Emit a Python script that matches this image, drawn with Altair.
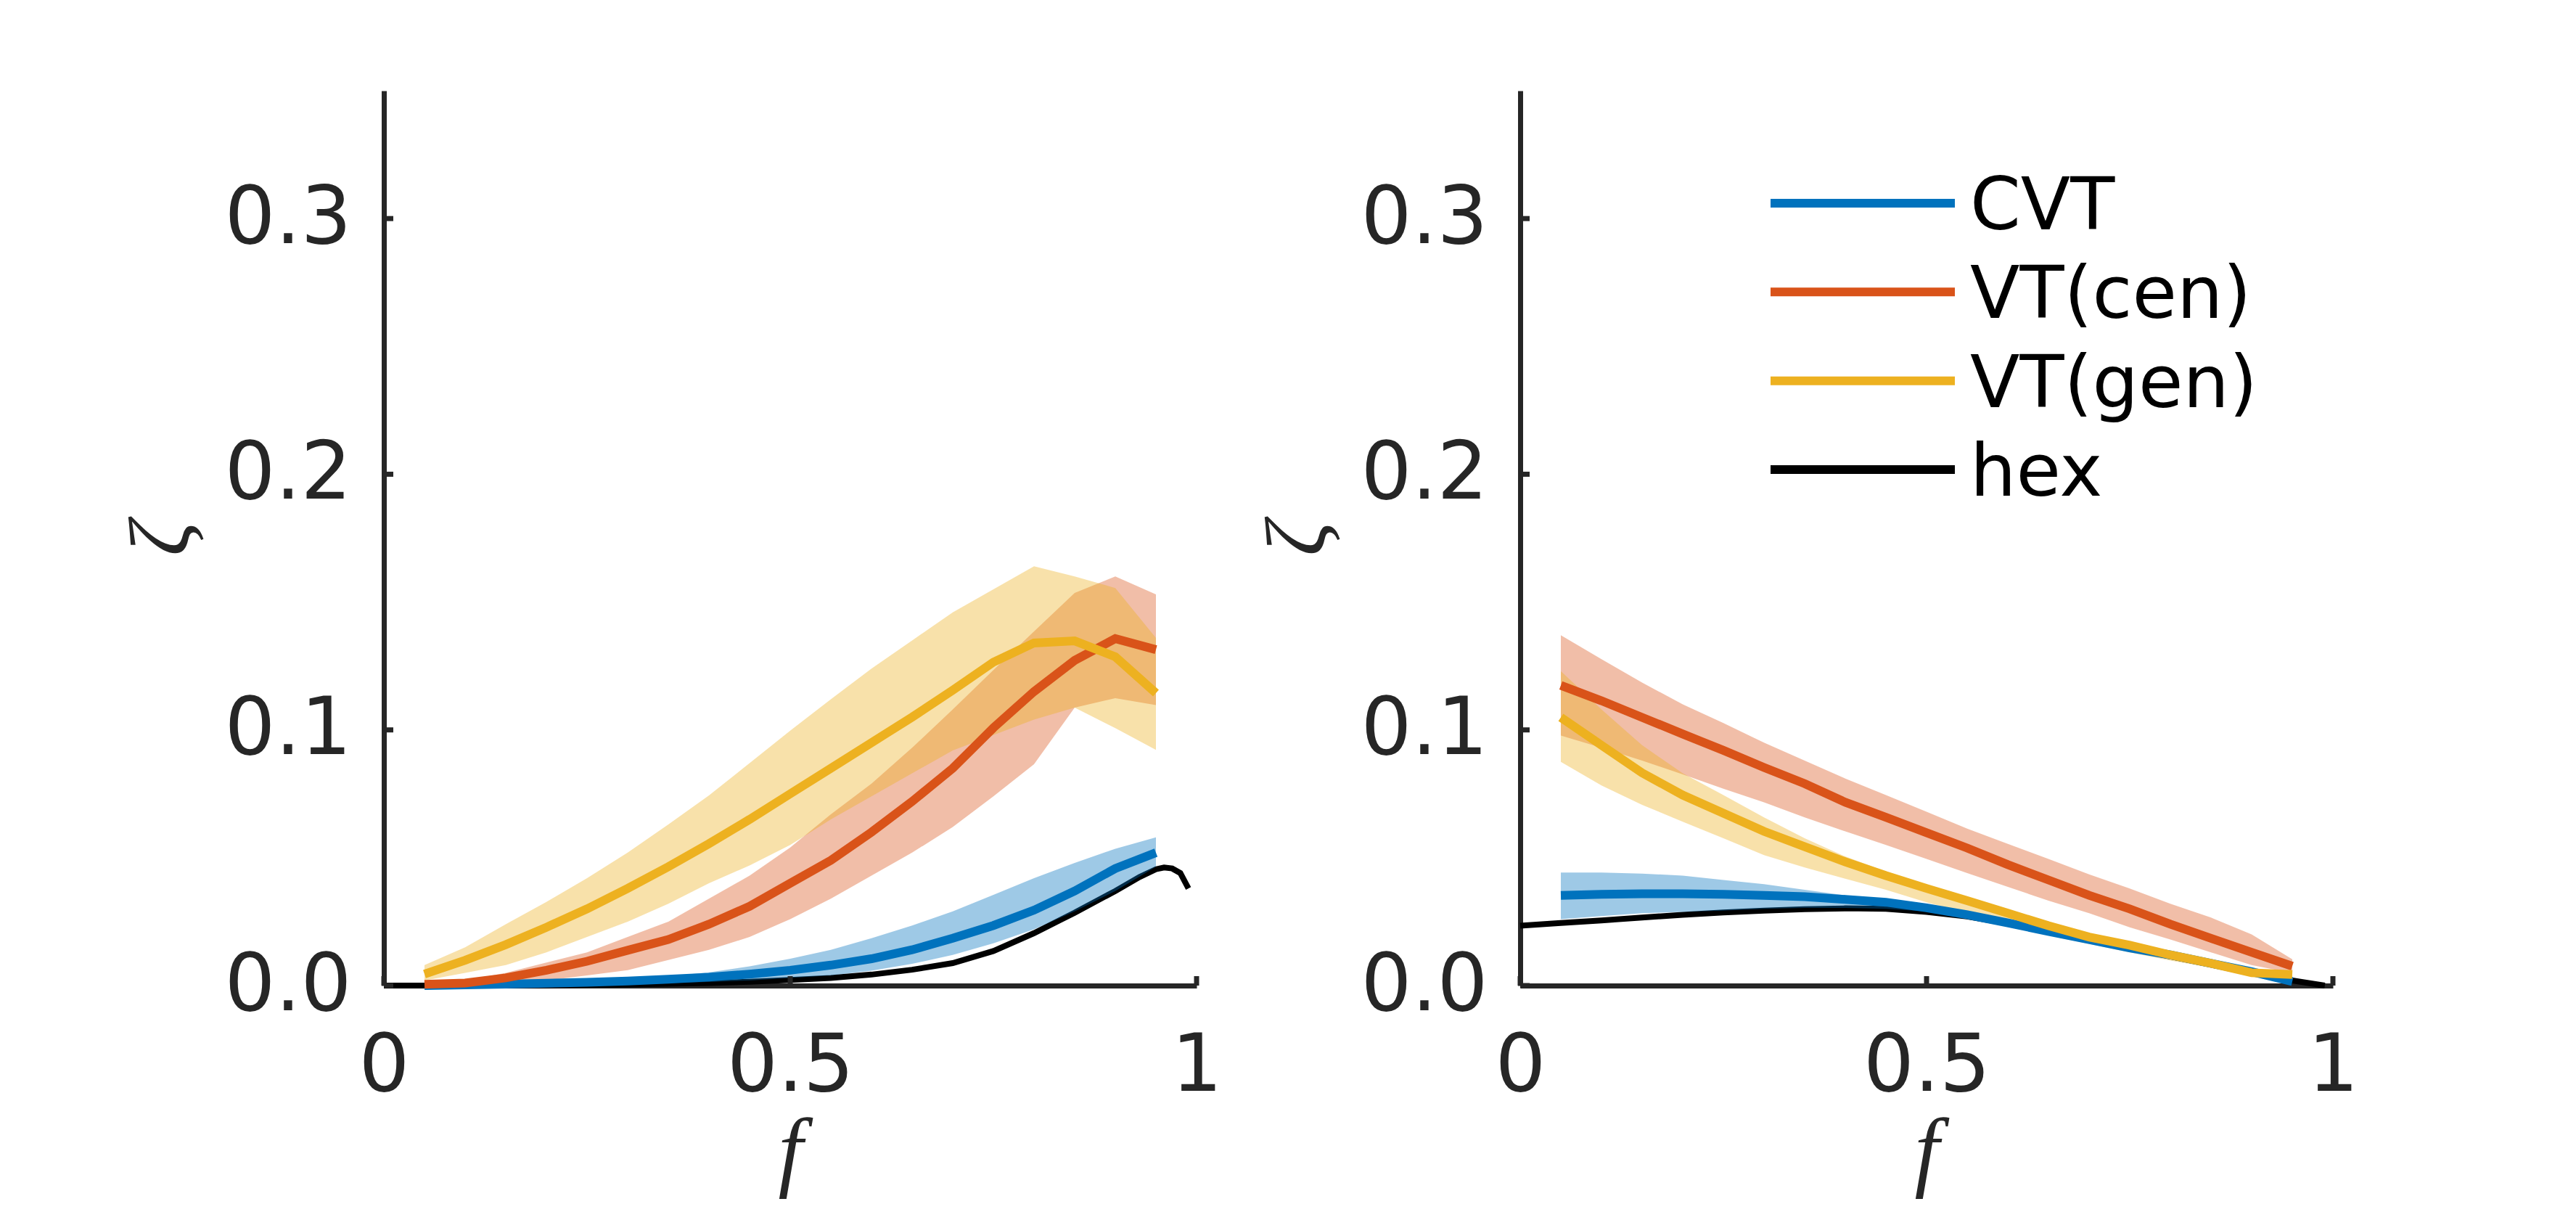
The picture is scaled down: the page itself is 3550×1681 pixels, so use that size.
import altair as alt
import pandas as pd

# ---------------- data ----------------
F = [0.05, 0.10, 0.15, 0.20, 0.25, 0.30, 0.35, 0.40, 0.45, 0.50,
     0.55, 0.60, 0.65, 0.70, 0.75, 0.80, 0.85, 0.90, 0.95]
SERIES = ["CVT", "VT(cen)", "VT(gen)", "hex"]
COLORS = ["#0072BD", "#D95319", "#EDB120", "#000000"]

# left panel
cvt_m_A = [0.0, 0.0003, 0.0006, 0.0009, 0.0013, 0.0018, 0.0025, 0.0033, 0.0045, 0.006,
           0.008, 0.0105, 0.014, 0.0185, 0.0235, 0.0295, 0.037, 0.0458, 0.052]
cvt_hi_A = [0.0003, 0.0006, 0.001, 0.0014, 0.002, 0.0027, 0.0036, 0.0052, 0.0075, 0.0105,
            0.014, 0.0185, 0.0235, 0.029, 0.0355, 0.042, 0.048, 0.0535, 0.058]
cvt_lo_A = [0.0, 0.0001, 0.0002, 0.0003, 0.0005, 0.0007, 0.001, 0.0014, 0.002, 0.003,
            0.004, 0.0058, 0.0085, 0.012, 0.0165, 0.022, 0.029, 0.037, 0.0465]
cen_m_A = [0.0005, 0.001, 0.003, 0.006, 0.0095, 0.0138, 0.018, 0.024, 0.031, 0.040,
           0.049, 0.060, 0.072, 0.085, 0.1008, 0.115, 0.1272, 0.1357, 0.1314]
cen_hi_A = [0.001, 0.002, 0.005, 0.009, 0.013, 0.019, 0.025, 0.034, 0.043, 0.054,
            0.067, 0.079, 0.093, 0.108, 0.1234, 0.1385, 0.1536, 0.160, 0.153]
cen_lo_A = [0.0, 0.0, 0.001, 0.002, 0.004, 0.006, 0.010, 0.014, 0.019, 0.026,
            0.034, 0.043, 0.052, 0.062, 0.074, 0.0866, 0.1087, 0.1124, 0.1097]
gen_m_A = [0.0045, 0.0099, 0.016, 0.0228, 0.030, 0.038, 0.0465, 0.0555, 0.065, 0.075,
           0.085, 0.095, 0.105, 0.1155, 0.1265, 0.134, 0.1348, 0.1286, 0.1144]
gen_hi_A = [0.008, 0.015, 0.024, 0.0327, 0.042, 0.052, 0.063, 0.0744, 0.087, 0.0997,
            0.112, 0.124, 0.135, 0.146, 0.155, 0.164, 0.160, 0.1555, 0.136]
gen_lo_A = [0.002, 0.005, 0.008, 0.013, 0.019, 0.025, 0.032, 0.040, 0.047, 0.055,
            0.065, 0.074, 0.083, 0.092, 0.098, 0.104, 0.1087, 0.1007, 0.0922]
hex_f_A = [0.0, 0.1, 0.2, 0.3, 0.4, 0.45, 0.5, 0.55, 0.6, 0.65, 0.7, 0.75, 0.8,
           0.85, 0.9, 0.93, 0.95, 0.96, 0.97, 0.98, 0.99]
hex_v_A = [0.0, 0.0, 0.0001, 0.0004, 0.001, 0.0015, 0.0022, 0.003, 0.0043, 0.0062, 0.0088,
           0.0135, 0.0205, 0.0285, 0.037, 0.0425, 0.0455, 0.0462, 0.0458, 0.044, 0.038]

# right panel
cvt_m_B = [0.0353, 0.0357, 0.0359, 0.0359, 0.0357, 0.0353, 0.0348, 0.0337, 0.0326, 0.0304,
           0.0277, 0.0245, 0.0212, 0.018, 0.0147, 0.012, 0.0087, 0.0054, 0.0016]
cvt_hi_B = [0.0442, 0.0442, 0.0438, 0.043, 0.0413, 0.0397, 0.0375, 0.0353, 0.0330, 0.0307,
            0.0280, 0.0250, 0.0217, 0.0185, 0.0152, 0.0125, 0.0092, 0.0059, 0.0021]
cvt_lo_B = [0.026, 0.0272, 0.0283, 0.0288, 0.0293, 0.030, 0.0304, 0.0304, 0.030, 0.029,
            0.0272, 0.0240, 0.0207, 0.0175, 0.0142, 0.0115, 0.0082, 0.0049, 0.0011]
cen_m_B = [0.1174, 0.1114, 0.1049, 0.0984, 0.092, 0.0853, 0.079, 0.0717, 0.0658, 0.0598,
           0.0538, 0.0473, 0.0413, 0.0353, 0.030, 0.024, 0.0185, 0.013, 0.0076]
cen_hi_B = [0.137, 0.1277, 0.1185, 0.110, 0.1027, 0.095, 0.088, 0.081, 0.0745, 0.068,
            0.0614, 0.0554, 0.0495, 0.0435, 0.038, 0.032, 0.0266, 0.020, 0.0103]
cen_lo_B = [0.0978, 0.093, 0.088, 0.0826, 0.077, 0.0717, 0.0658, 0.0603, 0.055, 0.0495,
            0.044, 0.0386, 0.0332, 0.0283, 0.0228, 0.018, 0.013, 0.008, 0.0049]
gen_m_B = [0.1049, 0.094, 0.0832, 0.0745, 0.0674, 0.0603, 0.0543, 0.0484, 0.043, 0.038,
           0.0332, 0.0283, 0.0234, 0.019, 0.0158, 0.012, 0.0087, 0.005, 0.0043]
gen_hi_B = [0.123, 0.108, 0.094, 0.083, 0.0745, 0.0658, 0.0576, 0.0505, 0.0446, 0.039,
            0.034, 0.0293, 0.0245, 0.020, 0.0158, 0.0125, 0.0092, 0.006, 0.0054]
gen_lo_B = [0.0875, 0.0783, 0.0707, 0.0641, 0.0576, 0.051, 0.0462, 0.0418, 0.0375, 0.0326,
            0.0283, 0.024, 0.0196, 0.0163, 0.013, 0.0098, 0.007, 0.0038, 0.0027]
hex_f_B = [0.0, 0.05, 0.1, 0.15, 0.2, 0.25, 0.3, 0.35, 0.4, 0.45, 0.5, 0.55, 0.6,
           0.65, 0.7, 0.75, 0.8, 0.85, 0.9, 0.95, 0.99]
hex_v_B = [0.0234, 0.0245, 0.0255, 0.0266, 0.0277, 0.0286, 0.0293, 0.0299, 0.0302, 0.0300,
           0.0288, 0.027, 0.0243, 0.0212, 0.018, 0.0147, 0.0114, 0.0082, 0.005, 0.002, 0.0]

X_TICKS = [0, 0.5, 1]
Y_TICKS = [0, 0.1, 0.2, 0.3]

# ---------------- style ----------------
W, H = 1120, 1233
AX = "#262626"
xs = alt.Scale(domain=[0, 1], nice=False, zero=False)
ys = alt.Scale(domain=[0, 0.35], nice=False, zero=False)
xaxis = alt.Axis(values=X_TICKS, format="~g", ticks=False, grid=False, domainColor=AX,
                 domainWidth=7, labelFont="DejaVu Sans", labelFontSize=110, labelColor=AX,
                 labelPadding=57, labelFlush=False, labelOverlap=False,
                 titleFont="Liberation Serif", titleFontStyle="italic", titleFontWeight="normal",
                 titleFontSize=122, titleColor=AX, titlePadding=5)
yaxis = alt.Axis(values=Y_TICKS, format=".1f", ticks=False, grid=False, domainColor=AX,
                 domainWidth=7, labelFont="DejaVu Sans", labelFontSize=110, labelColor=AX,
                 labelPadding=45, labelFlush=False, labelOverlap=False,
                 titleFont="Liberation Serif", titleFontStyle="italic", titleFontWeight="normal",
                 titleFontSize=118, titleColor=AX, titlePadding=45)
COLOR = alt.Color("series:N", scale=alt.Scale(domain=SERIES, range=COLORS), legend=None)


def X(field):
    return alt.X(field, type="quantitative", scale=xs, axis=xaxis, title="f")


def Y(field):
    return alt.Y(field, type="quantitative", scale=ys, axis=yaxis, title="ζ")


def panel(cvt, cen, gen, hexf, hexv, legend=False):
    rows = []
    for name, (m, lo, hi) in zip(SERIES[:3], [cvt, cen, gen]):
        for f, a, b, c in zip(F, m, lo, hi):
            rows.append({"f": f, "v": a, "lo": b, "hi": c, "series": name})
    df = pd.DataFrame(rows)
    hexdf = pd.DataFrame({"f": hexf, "v": hexv})

    hex_line = alt.Chart(hexdf).mark_line(color="black", strokeWidth=8).encode(
        x=X("f"), y=Y("v"))
    bands = alt.Chart(df).mark_area(opacity=0.38).encode(
        x=X("f"), y=Y("lo"), y2="hi", color=COLOR)
    lines = alt.Chart(df).mark_line(strokeWidth=12).encode(
        x=X("f"), y=Y("v"), color=COLOR)
    yt = alt.Chart(pd.DataFrame({"v": Y_TICKS})).mark_rule(color=AX, strokeWidth=7).encode(
        y=Y("v"), x=alt.value(0), x2=alt.value(13))
    xt = alt.Chart(pd.DataFrame({"f": X_TICKS})).mark_rule(color=AX, strokeWidth=7).encode(
        x=X("f"), y=alt.value(H), y2=alt.value(H - 13))
    main = alt.layer(hex_line, bands, lines, yt, xt)
    if not legend:
        return main.properties(width=W, height=H)

    legdf = pd.DataFrame({"series": SERIES})
    legY = alt.Y("series:N", scale=alt.Scale(type="point", domain=SERIES, range=[155, 522],
                                             padding=0), axis=None)
    leg_rule = alt.Chart(legdf).mark_rule().encode(
        y=legY, x=alt.value(345), x2=alt.value(599), color=COLOR,
        strokeWidth=alt.StrokeWidth("series:N", scale=alt.Scale(domain=SERIES,
                                    range=[12, 12, 12, 8]), legend=None))
    leg_text = alt.Chart(legdf).mark_text(align="left", baseline="middle", fontSize=100,
                                          font="DejaVu Sans", color="black", dy=6).encode(
        y=legY, x=alt.value(620), text="series:N")
    leg = alt.layer(leg_rule, leg_text)
    return alt.layer(main, leg).resolve_scale(y="independent").properties(width=W, height=H)


left = panel((cvt_m_A, cvt_lo_A, cvt_hi_A), (cen_m_A, cen_lo_A, cen_hi_A),
             (gen_m_A, gen_lo_A, gen_hi_A), hex_f_A, hex_v_A)
right = panel((cvt_m_B, cvt_lo_B, cvt_hi_B), (cen_m_B, cen_lo_B, cen_hi_B),
              (gen_m_B, gen_lo_B, gen_hi_B), hex_f_B, hex_v_B, legend=True)

chart = alt.hconcat(left, right, spacing=47).properties(
    padding={"left": 157, "top": 117, "right": 5, "bottom": 5},
    background="white",
).configure_view(strokeWidth=0)

chart.save("out.html", embed_options={"renderer": "svg", "actions": False})
